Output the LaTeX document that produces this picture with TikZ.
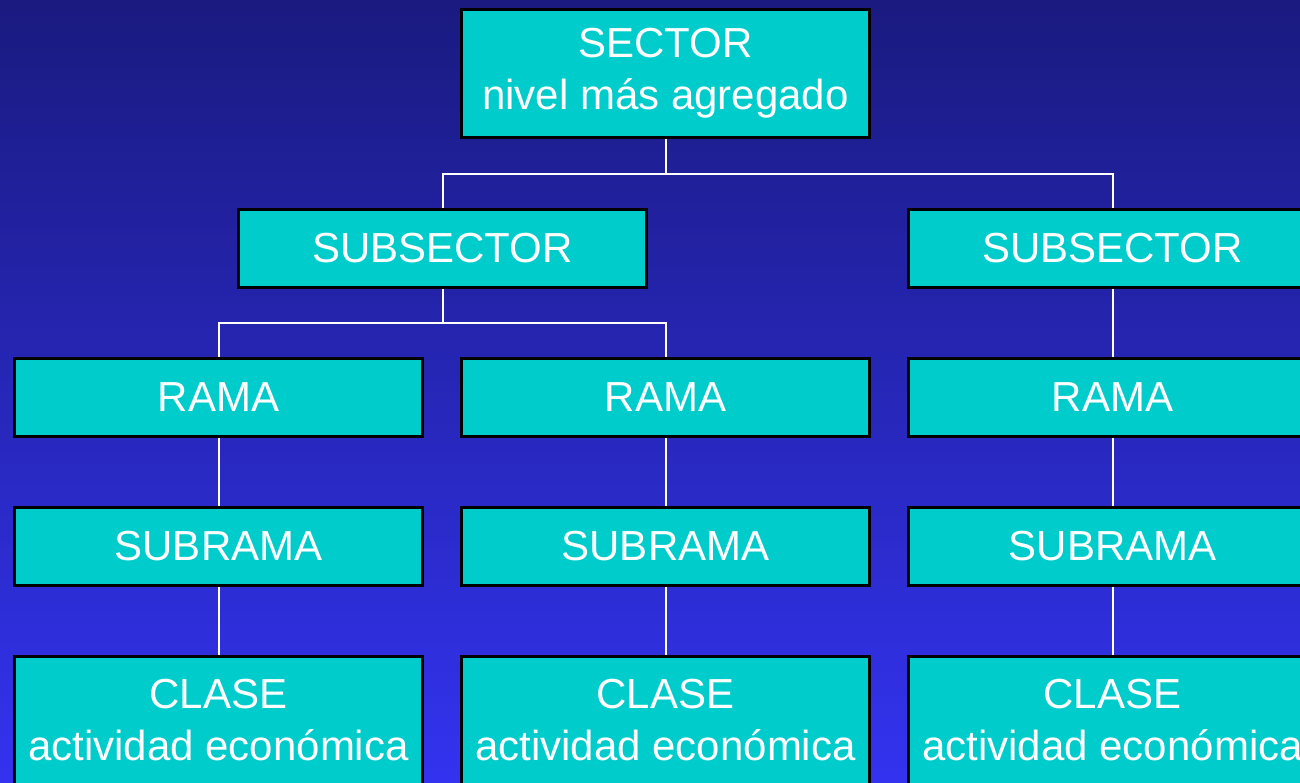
\documentclass[tikz,border=0pt]{standalone}
\usepackage{fontspec}
\setmainfont{Liberation Sans}
\usepackage{tikz}
\usetikzlibrary{positioning}
\definecolor{bgtop}{RGB}{26,26,128}
\definecolor{bgbottom}{RGB}{51,51,240}
\definecolor{boxcyan}{RGB}{0,204,204}

\tikzset{
	level/.style={draw=black, line width=1.5pt, fill=boxcyan, text=white, inner sep=0pt,
		minimum width=204pt, minimum height=39pt, align=center,
		font=\fontsize{21}{26}\selectfont},
	tall/.style={level, minimum height=64pt},
	link/.style={draw=white, line width=1pt}
}

\begin{document}
\begin{tikzpicture}[x=0.5pt, y=-0.5pt]
		\useasboundingbox (0,0) rectangle (1300,782);
		\clip (0,0) rectangle (1300,782);
		\shade [top color=bgtop, bottom color=bgbottom] (0,0) rectangle (1300,782);
		\coordinate (top) at (665.5,174);
		\coordinate (mid) at (442.5,323);
		% boxes
		\node [tall] (sector) at (665.5,73.5) {SECTOR\\nivel más agregado};
		\node [level] (subA) at (442.5,248.5) {SUBSECTOR};
		\node [level] (subB) at (1112.5,248.5) {SUBSECTOR};
		\foreach \n/\x in {A/218.5, B/665.5, C/1112.5}{
			\node [level] (rama\n) at (\x,397) {RAMA};
			\node [level] (subrama\n) at (\x,546) {SUBRAMA};
			\node [tall] (clase\n) at (\x,720.5) {CLASE\\actividad económica};
		}
		% lines
		\draw [link] (sector.south) -- (top);
		\draw [link] (subA.north) |- (top) -| (subB.north);
		\draw [link] (subA.south) -- (mid);
		\draw [link] (ramaA.north) |- (mid) -| (ramaB.north);
		\draw [link] (subB.south) -- (ramaC.north);
		\foreach \n in {A,B,C}{
			\draw [link] (rama\n.south) -- (subrama\n.north);
			\draw [link] (subrama\n.south) -- (clase\n.north);
		}
	\end{tikzpicture}
\end{document}
